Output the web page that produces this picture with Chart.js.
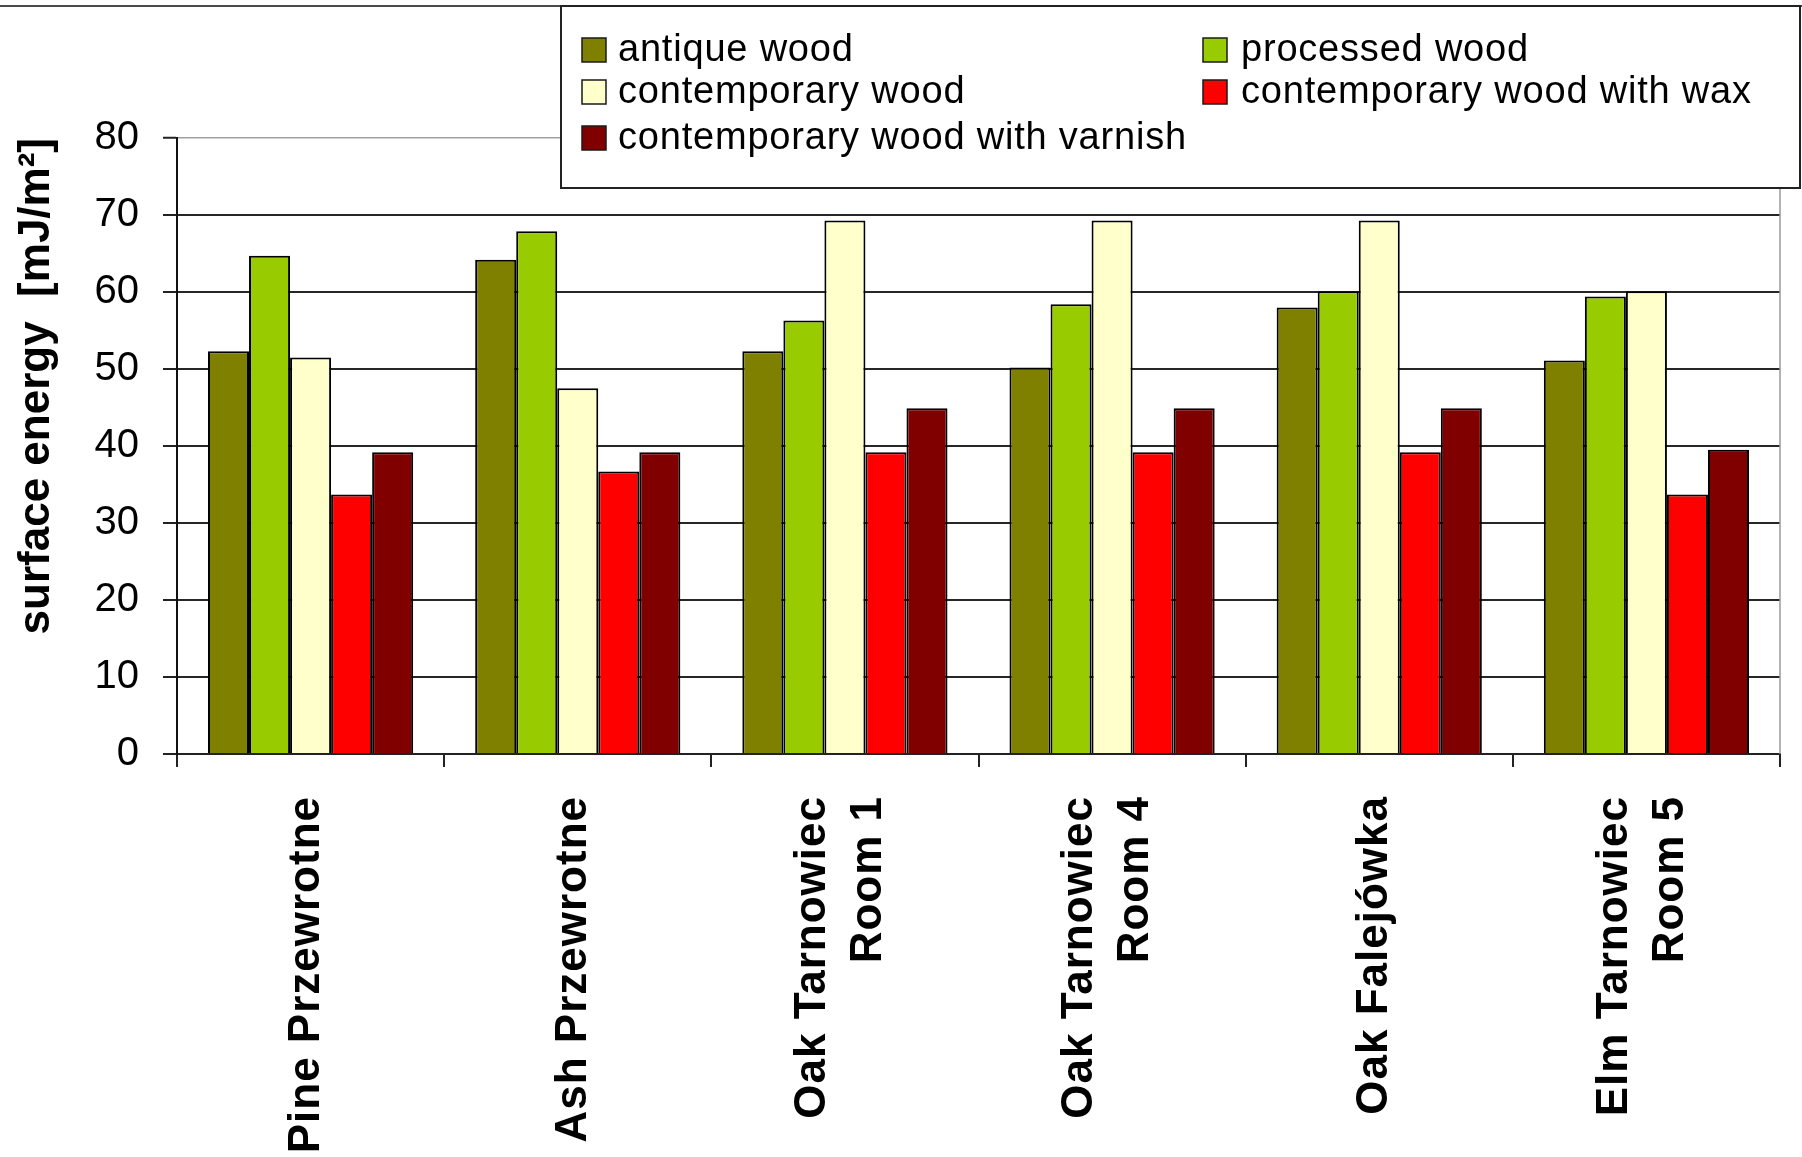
<!DOCTYPE html>
<html>
<head>
<meta charset="utf-8">
<title>Surface energy of wood samples</title>
<script src="https://cdn.jsdelivr.net/npm/chart.js@4/dist/chart.umd.min.js"></script>
<style>
  html, body { margin: 0; padding: 0; background: #ffffff; }
  canvas { display: block; }
</style>
</head>
<body>
<canvas id="chart" width="1802" height="1157"></canvas>
<script>
// Sampling sites (multi-line labels are arrays of lines)
const sites = [
  ["Pine Przewrotne"],
  ["Ash Przewrotne"],
  ["Oak Tarnowiec", "Room 1"],
  ["Oak Tarnowiec", "Room 4"],
  ["Oak Falejówka"],
  ["Elm Tarnowiec", "Room 5"]
];

// Surface energy in mJ/m² for each wood type
const antiqueWood      = [52.3, 64.2, 52.3, 50.2, 58.0, 51.1];
const processedWood    = [64.7, 67.9, 56.3, 58.4, 60.1, 59.4];
const contemporaryWood = [51.5, 47.5, 69.3, 69.3, 69.3, 60.1];
const withWax          = [33.7, 36.7, 39.2, 39.2, 39.2, 33.7];
const withVarnish      = [39.2, 39.2, 44.9, 44.9, 44.9, 39.5];

const seriesNames = [
  "antique wood",
  "processed wood",
  "contemporary wood",
  "contemporary wood with wax",
  "contemporary wood with varnish"
];

const yTicks = [0, 10, 20, 30, 40, 50, 60, 70, 80];
const yTitle = "surface energy  [mJ/m\u00B2]";

const FONT = "'Liberation Sans', Arial, Helvetica, sans-serif";
const fills = ["#808000", "#99cc00", "#ffffcc", "#ff0000", "#800000"];
const seriesValues = [antiqueWood, processedWood, contemporaryWood, withWax, withVarnish];

// Gray frame on the right-hand side of the plot area
const plotFrame = {
  id: "plotFrame",
  beforeDatasetsDraw(chart) {
    const { ctx, chartArea: a } = chart;
    ctx.save();
    ctx.strokeStyle = "#9a9a9a";
    ctx.lineWidth = 1.5;
    ctx.beginPath();
    ctx.moveTo(a.right, a.top);
    ctx.lineTo(a.right, a.bottom);
    ctx.stroke();
    ctx.restore();
  }
};

// Vertical, bold category labels under each group of bars
const siteLabels = {
  id: "siteLabels",
  afterDraw(chart) {
    const { ctx } = chart;
    const xs = chart.scales.x;
    const lineGap = 56;
    const topY = 796;
    ctx.save();
    ctx.font = "bold 44px " + FONT;
    ctx.fillStyle = "#000000";
    ctx.textAlign = "right";
    ctx.textBaseline = "middle";
    if ("letterSpacing" in ctx) ctx.letterSpacing = "1px";
    chart.data.labels.forEach((lines, i) => {
      const cx = xs.getPixelForTick(i) - 4;
      const n = lines.length;
      lines.forEach((line, j) => {
        const x = cx + (j - (n - 1) / 2) * lineGap;
        ctx.save();
        ctx.translate(x, topY);
        ctx.rotate(-Math.PI / 2);
        ctx.fillText(line, 0, 0);
        ctx.restore();
      });
    });
    ctx.restore();
  }
};

// Boxed two-column legend in the top-right corner
const boxedLegend = {
  id: "boxedLegend",
  afterDraw(chart) {
    const { ctx } = chart;
    const W = chart.width;
    const box = { left: 561, top: 6, right: 1800, bottom: 188 };
    ctx.save();
    // outer frame top edge
    ctx.strokeStyle = "#4a4a4a";
    ctx.lineWidth = 2;
    ctx.beginPath();
    ctx.moveTo(0, box.top);
    ctx.lineTo(W, box.top);
    ctx.stroke();
    // legend box
    ctx.fillStyle = "#ffffff";
    ctx.fillRect(box.left, box.top, box.right - box.left, box.bottom - box.top);
    ctx.strokeStyle = "#222222";
    ctx.lineWidth = 2;
    ctx.strokeRect(box.left, box.top, box.right - box.left, box.bottom - box.top);

    const colSwatch = [582, 1203];
    const colText = [618, 1241];
    const rowY = [50, 92, 138];
    const sw = 24;
    ctx.font = "38px " + FONT;
    ctx.textAlign = "left";
    ctx.textBaseline = "middle";
    if ("letterSpacing" in ctx) ctx.letterSpacing = "0.8px";
    chart.data.datasets.forEach((ds, i) => {
      const col = i % 2, row = Math.floor(i / 2);
      const y = rowY[row];
      ctx.fillStyle = ds.backgroundColor;
      ctx.fillRect(colSwatch[col], y - sw / 2, sw, sw);
      ctx.strokeStyle = "#1a1a1a";
      ctx.lineWidth = 1.5;
      ctx.strokeRect(colSwatch[col], y - sw / 2, sw, sw);
      ctx.fillStyle = "#000000";
      ctx.fillText(ds.label, colText[col], y + 1);
    });
    ctx.restore();
  }
};

new Chart(document.getElementById("chart"), {
  type: "bar",
  data: {
    labels: sites,
    datasets: seriesNames.map((name, i) => ({
      label: name,
      data: seriesValues[i],
      backgroundColor: fills[i],
      borderColor: "#000000",
      borderWidth: 2
    }))
  },
  options: {
    responsive: false,
    animation: false,
    devicePixelRatio: 1,
    layout: { padding: { top: 138, right: 22, bottom: 0, left: 0 } },
    datasets: { bar: { categoryPercentage: 0.768, barPercentage: 1.0 } },
    plugins: {
      legend: { display: false },
      tooltip: { enabled: false },
      title: { display: false }
    },
    scales: {
      x: {
        grid: {
          offset: true,
          drawOnChartArea: false,
          drawTicks: true,
          tickLength: 13,
          tickColor: "#222222",
          tickWidth: 2,
          color: "#222222",
          lineWidth: 2
        },
        border: { color: "#222222", width: 2 },
        ticks: { display: false },
        afterFit(scale) { scale.height = 403; }
      },
      y: {
        min: 0,
        max: 80,
        afterBuildTicks(scale) { scale.ticks = yTicks.map(v => ({ value: v })); },
        ticks: {
          color: "#000000",
          padding: 24,
          font: { family: FONT, size: 40 }
        },
        grid: {
          color: c => (c.tick && c.tick.value === 80 ? "#a0a0a0" : "#262626"),
          lineWidth: c => (c.tick && c.tick.value === 80 ? 1.5 : 2),
          drawTicks: true,
          tickLength: 14,
          tickColor: "#222222",
          tickWidth: 2
        },
        border: { color: "#111111", width: 2 },
        title: {
          display: true,
          text: yTitle,
          align: "end",
          color: "#000000",
          padding: { top: 10, bottom: 0 },
          font: { family: FONT, size: 44, weight: "bold" }
        },
        afterFit(scale) { scale.width = 177; }
      }
    }
  },
  plugins: [plotFrame, siteLabels, boxedLegend]
});
</script>
</body>
</html>
